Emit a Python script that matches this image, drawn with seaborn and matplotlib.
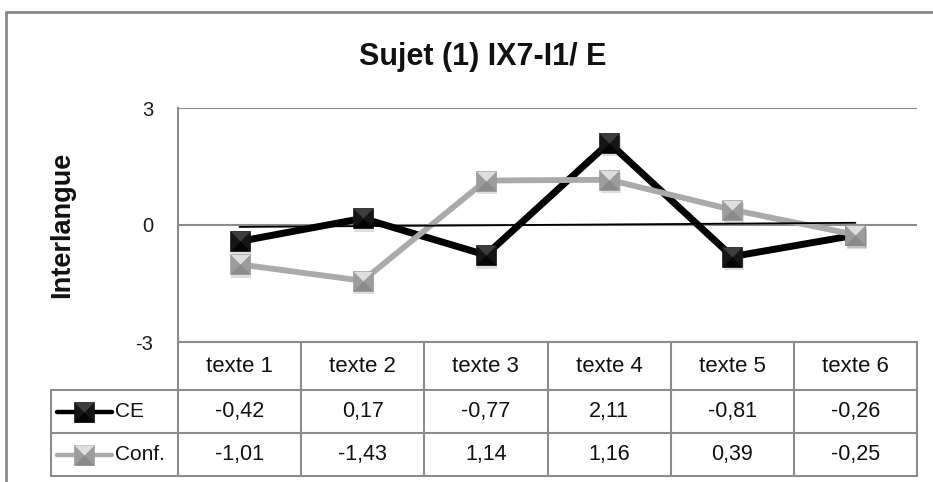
import matplotlib
matplotlib.use("Agg")
import matplotlib.pyplot as plt
import matplotlib.transforms as mtransforms
import seaborn as sns
import numpy as np
import pandas as pd
from matplotlib.lines import Line2D

# ---- data ----
categories = ["texte 1", "texte 2", "texte 3", "texte 4", "texte 5", "texte 6"]
ce_values = [-0.42, 0.17, -0.77, 2.11, -0.81, -0.26]
conf_values = [-1.01, -1.43, 1.14, 1.16, 0.39, -0.25]
series_names = ["CE", "Conf."]
y_ticks = [-3, 0, 3]
title_text = "Sujet (1) IX7-I1/ E"
y_label = "Interlangue"

# ---- style ----
W, H = 933, 482
sns.set_theme(style="white")
plt.rcParams['font.family'] = ['Liberation Sans', 'DejaVu Sans']

grid_col = "#8c8c8c"
TOP_TRI = [(-1, 1), (1, 1), (0, 0), (-1, 1)]
BOT_TRI = [(-1, -1), (1, -1), (0, 0), (-1, -1)]
specs = {
    # line, face(sides), top facet, bottom facet, lw, zorder
    series_names[0]: ("#000000", "#151515", "#3d3d3d", "#050505", 5.0, 3),
    series_names[1]: ("#aaaaaa", "#9c9c9c", "#dedede", "#8a8a8a", 4.2, 4),
}

fig = plt.figure(figsize=(W / 100, H / 100), dpi=100)
fig.patch.set_facecolor("white")

def fx(px):
    return px / W

def fy(py):
    return 1 - py / H

L, R, T, B = 178, 917, 108, 342
ax = fig.add_axes([fx(L), fy(B), fx(R) - fx(L), fy(T) - fy(B)])

df = pd.DataFrame({
    "texte": categories * 2,
    "valeur": ce_values + conf_values,
    "serie": [series_names[0]] * len(categories) + [series_names[1]] * len(categories),
})

pos = np.arange(len(categories))
MS = 14
shadow_tr = mtransforms.offset_copy(ax.transData, fig=fig, x=1.5, y=-3.5, units="dots")
for name in series_names:
    sub = df[df["serie"] == name]
    lc, fc, tc, bc, lw, z = specs[name]
    vals = sub["valeur"].values
    ax.plot(pos, vals, linestyle="none", marker="s", markersize=MS + 1,
            color="#000000", alpha=0.13, markeredgewidth=0, transform=shadow_tr,
            zorder=z - 0.5)
    sns.lineplot(x=pos, y=vals, ax=ax, color=lc, linewidth=lw,
                 marker="s", markersize=MS, markerfacecolor=fc, markeredgecolor=fc,
                 markeredgewidth=0.5, zorder=z, legend=False)
    ax.plot(pos, vals, linestyle="none", marker=TOP_TRI, markersize=MS,
            markerfacecolor=tc, markeredgewidth=0, zorder=z + 0.1)
    ax.plot(pos, vals, linestyle="none", marker=BOT_TRI, markersize=MS,
            markerfacecolor=bc, markeredgewidth=0, zorder=z + 0.1)

# linear trendline of CE
coef = np.polyfit(pos, ce_values, 1)
ax.plot([pos[0], pos[-1]], np.polyval(coef, [pos[0], pos[-1]]), color="black",
        linewidth=1.3, zorder=6)

ax.set_xlim(-0.5, len(categories) - 0.5)
ax.set_ylim(y_ticks[0], y_ticks[-1])
ax.set_yticks(y_ticks)
ax.set_yticklabels([str(t) for t in y_ticks], fontsize=14.5)
ax.set_xticks([])
ax.set_xlabel("")
ax.set_ylabel("")
ax.tick_params(axis="y", length=0, pad=18, colors="#1a1a1a")
for s in ["top", "right", "bottom"]:
    ax.spines[s].set_visible(False)
ax.spines["left"].set_color(grid_col)
ax.spines["left"].set_linewidth(1.5)
ax.yaxis.grid(True, color=grid_col, linewidth=1.5)
ax.set_axisbelow(True)
ax.patch.set_alpha(0)

# ---- title and y label ----
fig.text(fx(483), fy(57), title_text, ha="center", va="center", fontsize=22,
         fontweight="bold", color="#111111")
fig.text(fx(62), fy(225), y_label, ha="center", va="center", rotation=90,
         fontsize=19.5, fontweight="bold", color="#111111")

# ---- data table ----
def hline(y, x0, x1):
    fig.add_artist(Line2D([fx(x0), fx(x1)], [fy(y), fy(y)], color=grid_col,
                          linewidth=1.5, transform=fig.transFigure))

def vline(x, y0, y1):
    fig.add_artist(Line2D([fx(x), fx(x)], [fy(y0), fy(y1)], color=grid_col,
                          linewidth=1.5, transform=fig.transFigure))

row_y = [342, 390, 433, 476]
leg_x0 = 51
col_w = (R - L) / len(categories)
col_edges = [L + i * col_w for i in range(len(categories) + 1)]

hline(row_y[0], L, R)
for y in row_y[1:]:
    hline(y, leg_x0, R)
vline(leg_x0, row_y[1], row_y[3])
for x in col_edges:
    vline(x, row_y[0], row_y[3])

def fmt(v):
    return f"{v:.2f}".replace(".", ",")

for i, cat in enumerate(categories):
    cx = col_edges[i] + col_w / 2
    fig.text(fx(cx), fy((row_y[0] + row_y[1]) / 2), cat, ha="center", va="center",
             fontsize=16, color="#111111")
    fig.text(fx(cx), fy((row_y[1] + row_y[2]) / 2), fmt(ce_values[i]), ha="center",
             va="center", fontsize=15.5, color="#111111")
    fig.text(fx(cx), fy((row_y[2] + row_y[3]) / 2), fmt(conf_values[i]), ha="center",
             va="center", fontsize=15.5, color="#111111")

# legend keys inside the table
LMS = 14.5
for k, name in enumerate(series_names):
    lc, fc, tc, bc, lw, z = specs[name]
    yc = fy((row_y[k + 1] + row_y[k + 2]) / 2)
    xs = [fx(57), fx(84), fx(112)]
    fig.add_artist(Line2D(xs, [yc] * 3, color=lc, linewidth=3.2, marker="s",
                          markevery=[1], markersize=LMS, markerfacecolor=fc,
                          markeredgecolor=fc, markeredgewidth=0.5,
                          solid_capstyle="round", transform=fig.transFigure))
    fig.add_artist(Line2D([fx(84)], [yc], linestyle="none", marker=TOP_TRI,
                          markersize=LMS, markerfacecolor=tc, markeredgewidth=0,
                          transform=fig.transFigure))
    fig.add_artist(Line2D([fx(84)], [yc], linestyle="none", marker=BOT_TRI,
                          markersize=LMS, markerfacecolor=bc, markeredgewidth=0,
                          transform=fig.transFigure))
    fig.text(fx(115), yc, name, ha="left", va="center", fontsize=15, color="#111111")

# ---- outer chart frame (cropped at right and bottom) ----
fig.add_artist(Line2D([fx(6), fx(W)], [fy(12), fy(12)], color="#8a8a8a",
                      linewidth=2, transform=fig.transFigure))
fig.add_artist(Line2D([fx(6), fx(6)], [fy(12), fy(H)], color="#8a8a8a",
                      linewidth=2, transform=fig.transFigure))

fig.savefig("out.png", dpi=100)
